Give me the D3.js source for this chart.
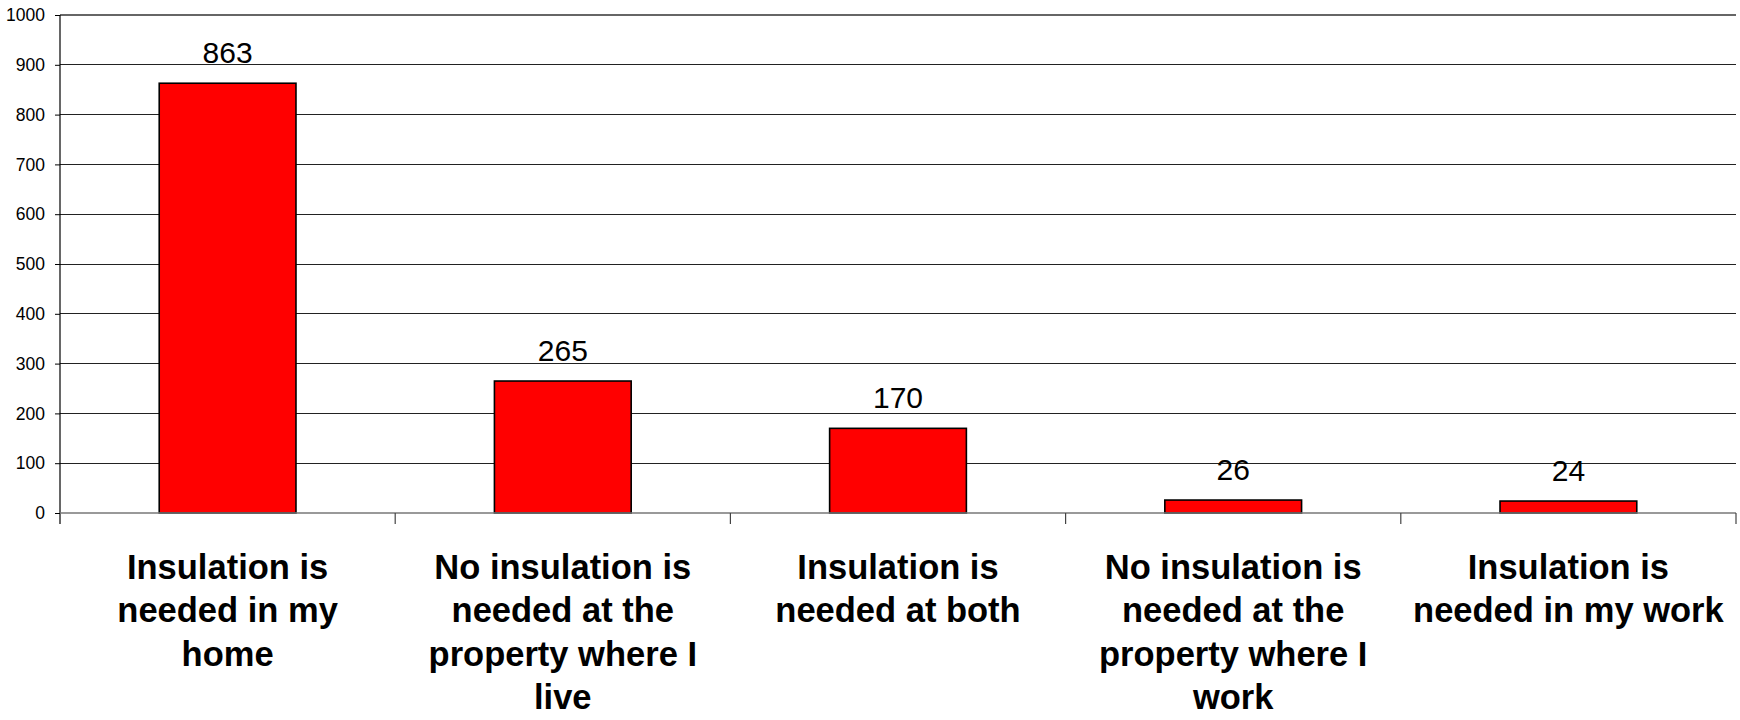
<!DOCTYPE html>
<html>
<head>
<meta charset="utf-8">
<script src="https://cdn.jsdelivr.net/npm/d3@7"></script>
<style>
  body { margin: 0; background: #fff; }
  text { font-family: "Liberation Sans", Arial, sans-serif; }
</style>
</head>
<body>
<div id="chart"></div>
<script>
// data
const categories = [
  "Insulation is\nneeded in my\nhome",
  "No insulation is\nneeded at the\nproperty where I\nlive",
  "Insulation is\nneeded at both",
  "No insulation is\nneeded at the\nproperty where I\nwork",
  "Insulation is\nneeded in my work"
];
const values = [863, 265, 170, 26, 24];
const yTicks = [0, 100, 200, 300, 400, 500, 600, 700, 800, 900, 1000];

const width = 1740;
const height = 720;
const plotLeft = 60, plotRight = 1736, plotTop = 15, plotBottom = 513;

const svg = d3.select('#chart')
  .append('svg')
  .attr('width', width)
  .attr('height', height);

const x = d3.scaleBand()
  .domain(categories)
  .range([plotLeft, plotRight])
  .padding(0);

const y = d3.scaleLinear()
  .domain([0, 1000])
  .range([plotBottom, plotTop]);

// gridlines
svg.append('g')
  .selectAll('line')
  .data(yTicks.filter(d => d > 0 && d < 1000))
  .enter()
  .append('line')
  .attr('x1', plotLeft).attr('x2', plotRight)
  .attr('y1', d => y(d)).attr('y2', d => y(d))
  .attr('stroke', '#222')
  .attr('stroke-width', 1)
  .attr('shape-rendering', 'crispEdges');

// top border
svg.append('line')
  .attr('x1', plotLeft).attr('x2', plotRight)
  .attr('y1', y(1000)).attr('y2', y(1000))
  .attr('stroke', '#666')
  .attr('stroke-width', 2);

// y axis
const yAxis = svg.append('g')
  .attr('transform', `translate(${plotLeft},0)`)
  .call(d3.axisLeft(y).tickValues(yTicks).tickFormat(d3.format('d'))
    .tickSize(5).tickSizeOuter(0).tickPadding(10));
yAxis.select('.domain').remove();
yAxis.selectAll('line').attr('stroke', '#000');
yAxis.selectAll('text')
  .attr('font-size', 17.5)
  .attr('fill', '#000');
svg.append('line')
  .attr('x1', plotLeft).attr('x2', plotLeft)
  .attr('y1', plotTop).attr('y2', plotBottom + 11)
  .attr('stroke', '#000')
  .attr('stroke-width', 1.2);

// bars
const barW = x.bandwidth() * 0.408;
svg.append('g')
  .selectAll('rect')
  .data(values)
  .enter()
  .append('rect')
  .attr('x', (d, i) => x(categories[i]) + (x.bandwidth() - barW) / 2)
  .attr('y', d => y(d))
  .attr('width', barW)
  .attr('height', d => y(0) - y(d))
  .attr('fill', '#ff0000')
  .attr('stroke', '#000')
  .attr('stroke-width', 1.6);

// x axis
svg.append('line')
  .attr('x1', plotLeft).attr('x2', plotRight)
  .attr('y1', plotBottom).attr('y2', plotBottom)
  .attr('stroke', '#777')
  .attr('stroke-width', 1.5);
svg.append('g')
  .selectAll('line')
  .data(categories.slice(1).concat(['end']))
  .enter()
  .append('line')
  .attr('x1', d => d === 'end' ? plotRight : x(d))
  .attr('x2', d => d === 'end' ? plotRight : x(d))
  .attr('y1', plotBottom).attr('y2', plotBottom + 11)
  .attr('stroke', '#444')
  .attr('stroke-width', 1.2);

// value labels
svg.append('g')
  .selectAll('text')
  .data(values)
  .enter()
  .append('text')
  .attr('x', (d, i) => x(categories[i]) + x.bandwidth() / 2)
  .attr('y', d => y(d) - 20)
  .attr('text-anchor', 'middle')
  .attr('font-size', 30)
  .text(d => d);

// category labels
const labels = svg.append('g')
  .selectAll('text')
  .data(categories)
  .enter()
  .append('text')
  .attr('x', d => x(d) + x.bandwidth() / 2)
  .attr('y', 579)
  .attr('text-anchor', 'middle')
  .attr('font-size', 34.5)
  .attr('font-weight', 'bold');
labels.selectAll('tspan')
  .data(d => d.split('\n'))
  .enter()
  .append('tspan')
  .attr('x', function() { return d3.select(this.parentNode).attr('x'); })
  .attr('dy', (d, i) => i === 0 ? 0 : 43.3)
  .text(d => d);
</script>
</body>
</html>
